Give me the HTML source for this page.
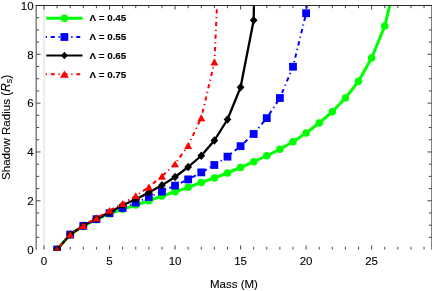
<!DOCTYPE html>
<html><head><meta charset="utf-8"><title>Shadow Radius vs Mass</title>
<style>html,body{margin:0;padding:0;background:#fff;}svg{display:block;will-change:transform;}text{font-family:"Liberation Sans",sans-serif;fill:#000;stroke:#000;stroke-width:0.1px;}</style></head>
<body>
<svg width="432" height="291" viewBox="0 0 432 291">
<rect width="432" height="291" fill="#fff"/>
<defs><clipPath id="c"><rect x="36" y="5" width="396" height="245.8"/></clipPath></defs>
<line x1="44.00" y1="5.5" x2="44.00" y2="249.5" stroke="#dcdcdc" stroke-width="1"/>
<g clip-path="url(#c)" fill="none" stroke-linejoin="round">
<polyline points="57.11,249.50 70.21,234.60 83.31,225.90 96.42,219.40 109.53,213.70 122.63,209.30 135.74,205.00 148.84,200.70 161.94,196.00 175.05,191.70 188.16,187.30 201.26,182.50 214.37,178.00 227.47,173.00 240.58,167.50 253.68,161.75 266.78,155.75 279.89,149.25 293.00,141.75 306.10,133.00 319.20,123.00 332.31,111.75 345.42,98.00 358.52,81.25 371.62,58.00 384.73,26.10 397.84,-28.00" stroke="#00ff00" stroke-width="3"/>
<g fill="#00ff00" stroke="none"><circle cx="57.11" cy="249.50" r="3.75"/><circle cx="70.21" cy="234.60" r="3.75"/><circle cx="83.31" cy="225.90" r="3.75"/><circle cx="96.42" cy="219.40" r="3.75"/><circle cx="109.53" cy="213.70" r="3.75"/><circle cx="122.63" cy="209.30" r="3.75"/><circle cx="135.74" cy="205.00" r="3.75"/><circle cx="148.84" cy="200.70" r="3.75"/><circle cx="161.94" cy="196.00" r="3.75"/><circle cx="175.05" cy="191.70" r="3.75"/><circle cx="188.16" cy="187.30" r="3.75"/><circle cx="201.26" cy="182.50" r="3.75"/><circle cx="214.37" cy="178.00" r="3.75"/><circle cx="227.47" cy="173.00" r="3.75"/><circle cx="240.58" cy="167.50" r="3.75"/><circle cx="253.68" cy="161.75" r="3.75"/><circle cx="266.78" cy="155.75" r="3.75"/><circle cx="279.89" cy="149.25" r="3.75"/><circle cx="293.00" cy="141.75" r="3.75"/><circle cx="306.10" cy="133.00" r="3.75"/><circle cx="319.20" cy="123.00" r="3.75"/><circle cx="332.31" cy="111.75" r="3.75"/><circle cx="345.42" cy="98.00" r="3.75"/><circle cx="358.52" cy="81.25" r="3.75"/><circle cx="371.62" cy="58.00" r="3.75"/><circle cx="384.73" cy="26.10" r="3.75"/></g>
<polyline points="57.11,249.50 70.21,234.60 83.31,225.85 96.42,219.20 109.53,213.20 122.63,208.00 135.74,202.50 148.84,197.00 161.94,191.60 175.05,185.60 188.16,179.40 201.26,172.40 214.37,165.00 227.47,156.65 240.58,146.15 253.68,133.95 266.78,118.10 279.89,98.00 293.00,66.75 306.10,13.25 319.20,-131.00" stroke="#0000ff" stroke-width="2" stroke-dasharray="1.25 3.55 4.2 3.58" stroke-dashoffset="1.0"/>
<g fill="#0000ff" stroke="none"><rect x="53.21" y="245.60" width="7.8" height="7.8"/><rect x="66.31" y="230.70" width="7.8" height="7.8"/><rect x="79.41" y="221.95" width="7.8" height="7.8"/><rect x="92.52" y="215.30" width="7.8" height="7.8"/><rect x="105.62" y="209.30" width="7.8" height="7.8"/><rect x="118.73" y="204.10" width="7.8" height="7.8"/><rect x="131.84" y="198.60" width="7.8" height="7.8"/><rect x="144.94" y="193.10" width="7.8" height="7.8"/><rect x="158.04" y="187.70" width="7.8" height="7.8"/><rect x="171.15" y="181.70" width="7.8" height="7.8"/><rect x="184.25" y="175.50" width="7.8" height="7.8"/><rect x="197.36" y="168.50" width="7.8" height="7.8"/><rect x="210.47" y="161.10" width="7.8" height="7.8"/><rect x="223.57" y="152.75" width="7.8" height="7.8"/><rect x="236.68" y="142.25" width="7.8" height="7.8"/><rect x="249.78" y="130.05" width="7.8" height="7.8"/><rect x="262.88" y="114.20" width="7.8" height="7.8"/><rect x="275.99" y="94.10" width="7.8" height="7.8"/><rect x="289.10" y="62.85" width="7.8" height="7.8"/><rect x="302.20" y="9.35" width="7.8" height="7.8"/></g>
<polyline points="57.11,249.50 70.21,234.50 83.31,225.80 96.42,218.80 109.53,212.40 122.63,205.30 135.74,199.20 148.84,192.60 161.94,185.20 175.05,177.00 188.16,167.00 201.26,155.75 214.37,140.50 227.47,119.50 240.58,87.20 253.68,20.20 266.78,-900.00" stroke="#000" stroke-width="2.3"/>
<g fill="#000" stroke="none"><path d="M57.11 245.25L60.96 249.50L57.11 253.75L53.26 249.50Z"/><path d="M70.21 230.25L74.06 234.50L70.21 238.75L66.36 234.50Z"/><path d="M83.31 221.55L87.16 225.80L83.31 230.05L79.47 225.80Z"/><path d="M96.42 214.55L100.27 218.80L96.42 223.05L92.57 218.80Z"/><path d="M109.53 208.15L113.38 212.40L109.53 216.65L105.68 212.40Z"/><path d="M122.63 201.05L126.48 205.30L122.63 209.55L118.78 205.30Z"/><path d="M135.74 194.95L139.59 199.20L135.74 203.45L131.89 199.20Z"/><path d="M148.84 188.35L152.69 192.60L148.84 196.85L144.99 192.60Z"/><path d="M161.94 180.95L165.79 185.20L161.94 189.45L158.09 185.20Z"/><path d="M175.05 172.75L178.90 177.00L175.05 181.25L171.20 177.00Z"/><path d="M188.16 162.75L192.00 167.00L188.16 171.25L184.31 167.00Z"/><path d="M201.26 151.50L205.11 155.75L201.26 160.00L197.41 155.75Z"/><path d="M214.37 136.25L218.22 140.50L214.37 144.75L210.52 140.50Z"/><path d="M227.47 115.25L231.32 119.50L227.47 123.75L223.62 119.50Z"/><path d="M240.58 82.95L244.43 87.20L240.58 91.45L236.73 87.20Z"/><path d="M253.68 15.95L257.53 20.20L253.68 24.45L249.83 20.20Z"/></g>
<polyline points="57.11,249.50 70.21,234.40 83.31,225.75 96.42,218.10 109.53,210.50 122.63,203.60 135.74,195.80 148.84,187.05 161.94,176.30 175.05,164.00 188.16,145.55 201.26,117.90 214.37,62.10 227.47,-220.00" stroke="#ff0000" stroke-width="2" stroke-dasharray="1.25 3.55 4.2 3.58" stroke-dashoffset="0.8"/>
<g fill="#ff0000" stroke="none"><path d="M57.11 245.90L61.11 252.85L53.11 252.85Z"/><path d="M70.21 230.80L74.21 237.75L66.21 237.75Z"/><path d="M83.31 222.15L87.31 229.10L79.31 229.10Z"/><path d="M96.42 214.50L100.42 221.45L92.42 221.45Z"/><path d="M109.53 206.90L113.53 213.85L105.53 213.85Z"/><path d="M122.63 200.00L126.63 206.95L118.63 206.95Z"/><path d="M135.74 192.20L139.74 199.15L131.74 199.15Z"/><path d="M148.84 183.45L152.84 190.40L144.84 190.40Z"/><path d="M161.94 172.70L165.94 179.65L157.94 179.65Z"/><path d="M175.05 160.40L179.05 167.35L171.05 167.35Z"/><path d="M188.16 141.95L192.16 148.90L184.16 148.90Z"/><path d="M201.26 114.30L205.26 121.25L197.26 121.25Z"/><path d="M214.37 58.50L218.37 65.45L210.37 65.45Z"/></g>
</g>
<g stroke="#2a2a2a" stroke-width="1" fill="none">
<path d="M35.6 5.5H432.0"/>
<path d="M36.15 249.7V5.5" stroke-width="0.9"/>
<path d="M431.5 249.7V5.5" stroke-width="0.6"/>
<path d="M44.00 249.5v-4.0M44.00 5.5v4.0M57.11 249.5v-2.7M57.11 5.5v2.7M70.21 249.5v-2.7M70.21 5.5v2.7M83.31 249.5v-2.7M83.31 5.5v2.7M96.42 249.5v-2.7M96.42 5.5v2.7M109.53 249.5v-4.0M109.53 5.5v4.0M122.63 249.5v-2.7M122.63 5.5v2.7M135.74 249.5v-2.7M135.74 5.5v2.7M148.84 249.5v-2.7M148.84 5.5v2.7M161.94 249.5v-2.7M161.94 5.5v2.7M175.05 249.5v-4.0M175.05 5.5v4.0M188.16 249.5v-2.7M188.16 5.5v2.7M201.26 249.5v-2.7M201.26 5.5v2.7M214.37 249.5v-2.7M214.37 5.5v2.7M227.47 249.5v-2.7M227.47 5.5v2.7M240.58 249.5v-4.0M240.58 5.5v4.0M253.68 249.5v-2.7M253.68 5.5v2.7M266.78 249.5v-2.7M266.78 5.5v2.7M279.89 249.5v-2.7M279.89 5.5v2.7M293.00 249.5v-2.7M293.00 5.5v2.7M306.10 249.5v-4.0M306.10 5.5v4.0M319.20 249.5v-2.7M319.20 5.5v2.7M332.31 249.5v-2.7M332.31 5.5v2.7M345.42 249.5v-2.7M345.42 5.5v2.7M358.52 249.5v-2.7M358.52 5.5v2.7M371.62 249.5v-4.0M371.62 5.5v4.0M384.73 249.5v-2.7M384.73 5.5v2.7M397.84 249.5v-2.7M397.84 5.5v2.7M410.94 249.5v-2.7M410.94 5.5v2.7M424.05 249.5v-2.7M424.05 5.5v2.7M36.5 237.39h2.7M431.5 237.39h-2.7M36.5 225.19h2.7M431.5 225.19h-2.7M36.5 212.98h2.7M431.5 212.98h-2.7M36.5 200.78h4.0M431.5 200.78h-4.0M36.5 188.57h2.7M431.5 188.57h-2.7M36.5 176.37h2.7M431.5 176.37h-2.7M36.5 164.16h2.7M431.5 164.16h-2.7M36.5 151.96h4.0M431.5 151.96h-4.0M36.5 139.75h2.7M431.5 139.75h-2.7M36.5 127.55h2.7M431.5 127.55h-2.7M36.5 115.34h2.7M431.5 115.34h-2.7M36.5 103.14h4.0M431.5 103.14h-4.0M36.5 90.94h2.7M431.5 90.94h-2.7M36.5 78.73h2.7M431.5 78.73h-2.7M36.5 66.53h2.7M431.5 66.53h-2.7M36.5 54.32h4.0M431.5 54.32h-4.0M36.5 42.11h2.7M431.5 42.11h-2.7M36.5 29.91h2.7M431.5 29.91h-2.7M36.5 17.70h2.7M431.5 17.70h-2.7M36.5 5.50h4.0M431.5 5.50h-4.0" stroke-width="0.85" stroke="#262626"/>
</g>
<g font-size="11.5px">
<text x="44.00" y="264.9" text-anchor="middle">0</text>
<text x="109.53" y="264.9" text-anchor="middle">5</text>
<text x="175.05" y="264.9" text-anchor="middle">10</text>
<text x="240.58" y="264.9" text-anchor="middle">15</text>
<text x="306.10" y="264.9" text-anchor="middle">20</text>
<text x="371.62" y="264.9" text-anchor="middle">25</text>
<text x="33.6" y="253.80" text-anchor="end">0</text>
<text x="33.6" y="204.98" text-anchor="end">2</text>
<text x="33.6" y="156.16" text-anchor="end">4</text>
<text x="33.6" y="107.34" text-anchor="end">6</text>
<text x="33.6" y="58.52" text-anchor="end">8</text>
<text x="33.6" y="9.70" text-anchor="end">10</text>
</g>
<text x="234" y="287.9" font-size="11.5px" text-anchor="middle">Mass (M)</text>
<text transform="translate(9.9 127.4) rotate(-90)" font-size="11.55px" text-anchor="middle">Shadow Radius <tspan font-size="12px">(</tspan><tspan font-size="11.9px" font-style="italic">R</tspan><tspan font-size="8.8px" dy="2.0" font-style="italic">s</tspan><tspan dy="-2.0" font-size="12px">)</tspan></text>
<line x1="46.25" y1="18.2" x2="82.5" y2="18.2" stroke="#00ff00" stroke-width="3"/><g fill="#00ff00"><circle cx="64.40" cy="18.20" r="3.75"/></g>
<line x1="45.75" y1="37.0" x2="82.5" y2="37.0" stroke="#0000ff" stroke-width="2" stroke-dasharray="1.25 3.75 4 3.75"/><g fill="#0000ff"><rect x="60.50" y="33.10" width="7.8" height="7.8"/></g>
<line x1="46.25" y1="55.5" x2="82.5" y2="55.5" stroke="#000" stroke-width="2"/><g fill="#000"><path d="M64.40 51.75L67.80 55.50L64.40 59.25L61.00 55.50Z"/></g>
<line x1="45.75" y1="74.2" x2="82.5" y2="74.2" stroke="#ff0000" stroke-width="2" stroke-dasharray="1.25 3.75 4 3.75"/><g fill="#ff0000"><path d="M64.40 70.50L68.80 77.80L60.00 77.80Z"/></g>
<g font-size="9.8px" font-weight="bold">
<text x="89.5" y="21.40">Λ = 0.45</text>
<text x="89.5" y="40.25">Λ = 0.55</text>
<text x="89.5" y="58.85">Λ = 0.65</text>
<text x="89.5" y="77.75">Λ = 0.75</text>
</g>
</svg></body></html>
